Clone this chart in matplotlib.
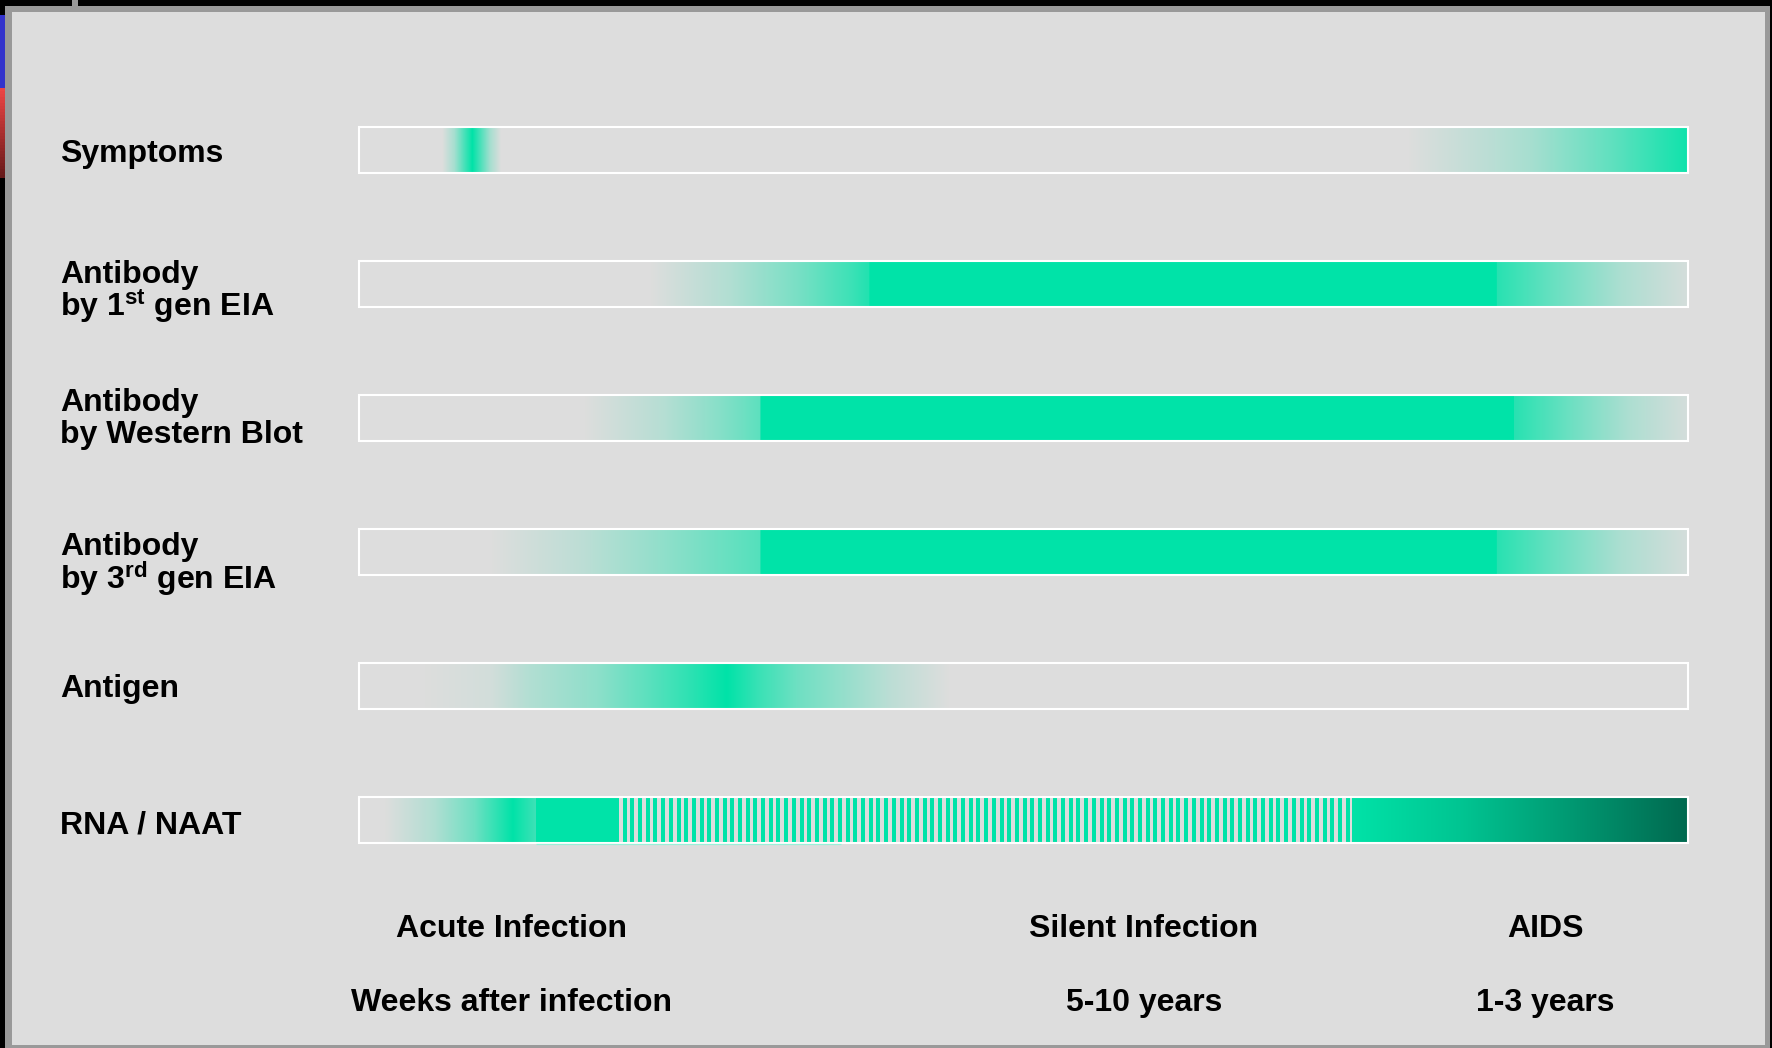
import numpy as np
import matplotlib
matplotlib.use("Agg")
import matplotlib.pyplot as plt
from matplotlib.patches import Rectangle

plt.rcParams['font.family'] = ['Liberation Sans', 'DejaVu Sans']
plt.rcParams['mathtext.fontset'] = 'custom'
plt.rcParams['mathtext.rm'] = 'Liberation Sans:bold'
plt.rcParams['mathtext.it'] = 'Liberation Sans:bold'
plt.rcParams['mathtext.bf'] = 'Liberation Sans:bold'

# ---------------- data ----------------
row_labels = [
    ["Symptoms"],
    ["Antibody", r"by 1$^{\mathrm{st}}$ gen EIA"],
    ["Antibody", "by Western Blot"],
    ["Antibody", r"by 3$^{\mathrm{rd}}$ gen EIA"],
    ["Antigen"],
    ["RNA / NAAT"],
]

# detection intensity stops along the timeline (0 = start, 1 = end)
symptoms_pos = [0.0, 0.063, 0.072, 0.080, 0.0855, 0.091, 0.099, 0.107, 0.79, 0.853, 0.883, 0.944, 1.0]
symptoms_val = [0.0, 0.0, 0.25, 0.7, 1.0, 0.7, 0.25, 0.0, 0.0, 0.16, 0.25, 0.57, 0.93]

ab1_pos = [0.0, 0.22, 0.28, 0.33, 0.37, 0.384, 0.3845, 0.856, 0.8565, 0.90, 0.95, 1.0]
ab1_val = [0.0, 0.0, 0.2, 0.45, 0.72, 0.85, 1.0, 1.0, 0.82, 0.52, 0.22, 0.04]

wb_pos = [0.0, 0.17, 0.23, 0.27, 0.302, 0.3025, 0.869, 0.8695, 0.91, 0.955, 1.0]
wb_val = [0.0, 0.0, 0.18, 0.38, 0.58, 1.0, 1.0, 0.82, 0.52, 0.22, 0.04]

ab3_pos = [0.0, 0.10, 0.17, 0.23, 0.27, 0.302, 0.3025, 0.856, 0.8565, 0.90, 0.95, 1.0]
ab3_val = [0.0, 0.0, 0.15, 0.35, 0.5, 0.62, 1.0, 1.0, 0.82, 0.52, 0.22, 0.04]

antigen_pos = [0.0, 0.05, 0.10, 0.13, 0.18, 0.22, 0.25, 0.277, 0.30, 0.33, 0.37, 0.40, 0.444, 1.0]
antigen_val = [0.0, 0.0, 0.05, 0.2, 0.36, 0.6, 0.8, 1.0, 0.75, 0.5, 0.3, 0.15, 0.0, 0.0]

rna_pos = [0.0, 0.02, 0.057, 0.087, 0.108, 0.116, 0.133, 0.1331, 0.196, 0.1961, 0.747, 0.7471, 1.0]
rna_val = [0.0, 0.0, 0.2, 0.5, 0.86, 1.0, 0.72, 1.0, 1.0, 0.0, 0.0, 1.0, 1.0]
rna_dark_pos = [0.0, 0.747, 0.83, 0.91, 1.0]
rna_dark_val = [0.0, 0.0, 0.25, 0.6, 1.0]
rna_stripe_count = 95
rna_stripe_first = 0.1984
rna_stripe_last = 0.7424

profiles = [
    (symptoms_pos, symptoms_val),
    (ab1_pos, ab1_val),
    (wb_pos, wb_val),
    (ab3_pos, ab3_val),
    (antigen_pos, antigen_val),
    (rna_pos, rna_val),
]

phase_labels = ["Acute Infection", "Silent Infection", "AIDS"]
duration_labels = ["Weeks after infection", "5-10 years", "1-3 years"]

# ---------------- style / layout ----------------
W, H = 1772, 1048
BG = np.array([221, 221, 221]) / 255
GREEN = np.array([0, 227, 168]) / 255
DARK = np.array([0, 105, 79]) / 255
BAR_L, BAR_W = 359, 1329
ROW0, ROW_STEP = 150, 134
label_x_px = 60
label_baselines = [[12], [-1, 32.5], [-6.5, 25], [3.5, 37], [11.5], [13]]
phase_x_px = [512, 1144, 1545]
phase_y_px, dur_y_px = 937, 1011
FS = 23


def px2x(px):
    return (px - BAR_L) / BAR_W


def px2y(py):
    return (py - ROW0) / ROW_STEP


fig = plt.figure(figsize=(W / 100, H / 100), dpi=100, facecolor='#dddddd')
ax = fig.add_axes([0, 0, 1, 1])
ax.set_facecolor('#dddddd')
ax.set_xlim(px2x(0), px2x(W))
ax.set_ylim(px2y(H), px2y(0))
ax.axis('off')

N = 2658
xs = (np.arange(N) + 0.5) / N
bar_h = 46 / ROW_STEP

for i, (pos, val) in enumerate(profiles):
    t = np.interp(xs, pos, val)[:, None]
    rgb = BG[None, :] * (1 - t) + GREEN[None, :] * t
    if i == 5:
        d = np.interp(xs, rna_dark_pos, rna_dark_val)[:, None]
        rgb = rgb * (1 - d) + DARK[None, :] * d
    img = rgb[None, :, :]
    ax.imshow(img, extent=(0, 1, i + bar_h / 2, i - bar_h / 2), aspect='auto',
              interpolation='nearest', zorder=2)
    if i == 5:
        starts = np.linspace(rna_stripe_first, rna_stripe_last, rna_stripe_count)
        ax.bar(starts, bar_h, width=4 / BAR_W, bottom=i - bar_h / 2, align='edge',
               color='#00e3a8', edgecolor='none', zorder=3)
    ax.add_patch(Rectangle((0, i - bar_h / 2), 1, bar_h, fill=False,
                           ec='white', lw=1.5, zorder=4))
    if i == 5:
        ax.plot([0.133, 0.363], [i + bar_h / 2 + 0.006] * 2, color='#9af0d8',
                lw=0.9, zorder=5, solid_capstyle='butt')

    for line, off in zip(row_labels[i], label_baselines[i]):
        ax.text(px2x(label_x_px), i + off / ROW_STEP, line, fontsize=FS,
                fontweight='bold', ha='left', va='baseline', color='black', zorder=6)

for lab, dur, xp in zip(phase_labels, duration_labels, phase_x_px):
    ax.text(px2x(xp), px2y(phase_y_px), lab, fontsize=FS, fontweight='bold',
            ha='center', va='baseline', color='black')
    ax.text(px2x(xp), px2y(dur_y_px), dur, fontsize=FS, fontweight='bold',
            ha='center', va='baseline', color='black')

# ---------------- window frame ----------------
fr = fig.add_axes([0, 0, 1, 1], zorder=10)
fr.set_xlim(0, W)
fr.set_ylim(H, 0)
fr.axis('off')
fr.patch.set_alpha(0)


def box(x, y, w, h, c):
    fr.add_patch(Rectangle((x, y), w, h, color=c, lw=0))


box(0, 0, W, 6, 'black')
box(72, 0, 6, 6, '#999999')
box(5, 6, 1761, 6, '#999999')
box(0, 6, 5, H, 'black')
box(0, 15, 5, 73, '#3333cc')
reds = np.linspace(0, 1, 30)
for k, r in enumerate(reds):
    c = (0.93 * (1 - r) + 0.40 * r, 0.27 * (1 - r) + 0.10 * r, 0.27 * (1 - r) + 0.10 * r)
    box(0, 88 + k * 3, 5, 3.2, c)
box(5, 6, 7, H, '#999999')
box(1765, 6, 5, H, '#999999')
box(1770, 0, 2, H, 'black')
box(5, 1045, 1765, 3, '#999999')

fig.savefig('out.png', dpi=100, facecolor=fig.get_facecolor())
